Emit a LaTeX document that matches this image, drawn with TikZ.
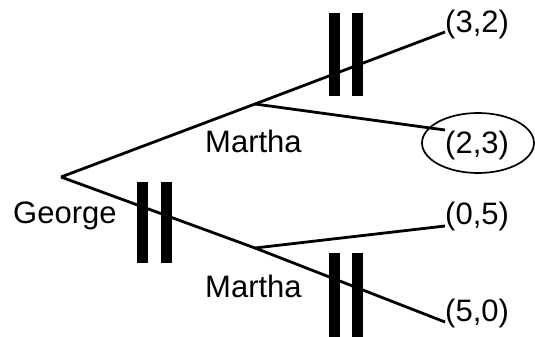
\documentclass[tikz,border=0pt]{standalone}
\usepackage{fontspec}
\setmainfont{Liberation Sans}
\begin{document}
\begin{tikzpicture}[x=1pt,y=-1pt,
  branch/.style={line width=2.8pt},
  lbl/.style={inner sep=0pt, anchor=base west, font=\fontsize{31}{37}\selectfont},
  barbox/.style={fill=black, draw=none},
  circ/.style={draw, line width=1.7pt}]
\useasboundingbox (0,0) rectangle (535,337);
% decision points and branch ends
\coordinate (G) at (61,177);
\coordinate (M1) at (255,104);
\coordinate (M2) at (255,248);
\coordinate (e32) at (445,32);
\coordinate (e23) at (445,130);
\coordinate (e05) at (445,226);
\coordinate (e50) at (445,322);
% labels
\node[lbl] (george) at (13,223) {George};
\node[lbl] (martha1) at (205,152) {Martha};
\node[lbl] (martha2) at (205,297) {Martha};
\node[lbl] (p32) at (445,33) {(3,2)};
\node[lbl] (p23) at (445,153) {(2,3)};
\node[lbl] (p05) at (445,224) {(0,5)};
\node[lbl] (p50) at (445,321) {(5,0)};
% branches
\draw[branch] (G) -- (M1) -- (e32);
\draw[branch] (M1) -- (e23);
\draw[branch] (G) -- (M2) -- (e50);
\draw[branch] (M2) -- (e05);
% equilibrium ellipse
\draw[circ] (478,143) ellipse [x radius=56pt, y radius=30pt];
% pruning bars
\fill[barbox] (329,13) rectangle (340,96);
\fill[barbox] (352,13) rectangle (363,96);
\fill[barbox] (137,182) rectangle (148,263);
\fill[barbox] (161,182) rectangle (172,263);
\fill[barbox] (329,253) rectangle (340,337);
\fill[barbox] (352,253) rectangle (363,337);
\end{tikzpicture}
\end{document}
